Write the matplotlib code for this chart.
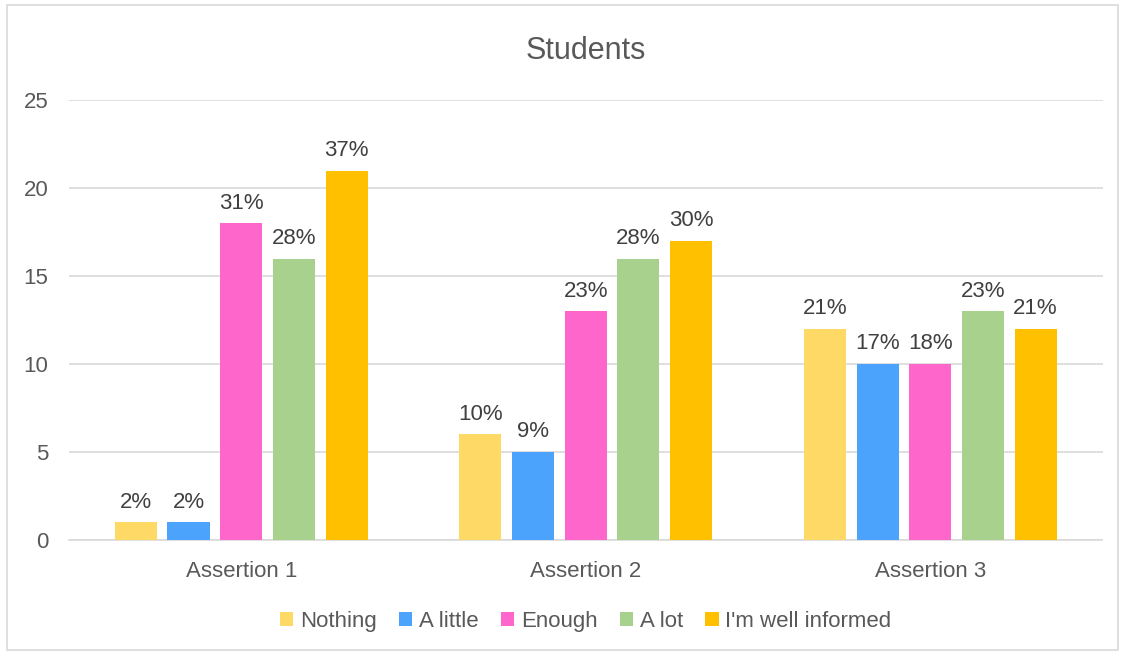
import numpy as np
import matplotlib.pyplot as plt
from matplotlib.patches import Rectangle

plt.rcParams['font.family'] = ['Liberation Sans', 'DejaVu Sans']

groups = ['Assertion 1', 'Assertion 2', 'Assertion 3']
answers = ['Nothing', 'A little', 'Enough', 'A lot', "I'm well informed"]
colors = ['#FFD966', '#4BA3FB', '#FF66CC', '#A9D18E', '#FFC000']

# counts per answer, one value per assertion
nothing = [1, 6, 12]
a_little = [1, 5, 10]
enough = [18, 13, 10]
a_lot = [16, 16, 13]
well_informed = [21, 17, 12]
series = [nothing, a_little, enough, a_lot, well_informed]

# percentage labels shown above the bars
pct_nothing = ['2%', '10%', '21%']
pct_a_little = ['2%', '9%', '17%']
pct_enough = ['31%', '23%', '18%']
pct_a_lot = ['28%', '28%', '23%']
pct_well_informed = ['37%', '30%', '21%']
pcts = [pct_nothing, pct_a_little, pct_enough, pct_a_lot, pct_well_informed]

fig = plt.figure(figsize=(11.25, 6.55), dpi=100)
ax = fig.add_axes([0.0613, 0.1756, 0.9187, 0.6714])

x = np.arange(len(groups))
pitch = 0.153
width = 0.122
for i, (vals, lab, col) in enumerate(zip(series, answers, colors)):
    pos = x + (i - 2) * pitch
    bars = ax.bar(pos, vals, width, color=col, label=lab, zorder=3)
    for b, t in zip(bars, pcts[i]):
        ax.annotate(t, (b.get_x() + b.get_width() / 2, b.get_height()),
                    xytext=(0, 7), textcoords='offset points',
                    ha='center', va='bottom', fontsize=16, color='#404040')

ax.set_xlim(-0.5, 2.5)
ax.set_ylim(0, 25)
ax.set_yticks(range(0, 26, 5))
ax.set_xticks(x)
ax.set_xticklabels(groups)
ax.grid(axis='y', color='#D9D9D9', linewidth=1.2, zorder=0)
for s in ['top', 'right', 'left']:
    ax.spines[s].set_visible(False)
ax.spines['bottom'].set_color('#D9D9D9')
ax.spines['bottom'].set_linewidth(1.2)
ax.tick_params(axis='both', length=0, labelsize=16, labelcolor='#595959')
ax.tick_params(axis='y', pad=15)
ax.tick_params(axis='x', pad=15)

ax.set_title('Students', fontsize=22, color='#595959', pad=30)

ax.legend(loc='upper center', bbox_to_anchor=(0.5, -0.115), ncol=5, frameon=False,
          fontsize=16, labelcolor='#595959', handlelength=0.6, handleheight=0.6,
          handletextpad=0.3, columnspacing=1.0)

fig.patches.append(Rectangle((7 / 1125, 5 / 655), 1111 / 1125, 645 / 655,
                             transform=fig.transFigure, fill=False,
                             edgecolor='#D9D9D9', linewidth=1.2))

fig.savefig('out.png', dpi=100)
